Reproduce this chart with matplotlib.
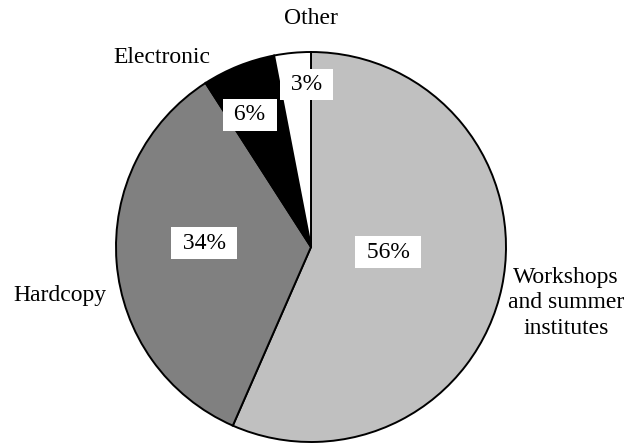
import matplotlib
matplotlib.use("Agg")
import matplotlib.pyplot as plt
import numpy as np

categories = ["Workshops\nand summer\ninstitutes", "Hardcopy", "Electronic", "Other"]
shares = [56, 34, 6, 3]
colors = ["#c0c0c0", "#808080", "#000000", "#ffffff"]

plt.rcParams["font.family"] = ["Liberation Serif", "DejaVu Serif"]

W, H = 636, 443
fig = plt.figure(figsize=(W / 100, H / 100), dpi=100)
ax = fig.add_axes([0, 0, 1, 1])

cx, cy, R = 311, 196, 195
wedges, _ = ax.pie(shares, colors=colors, startangle=90, counterclock=False,
                   center=(cx, cy), radius=R,
                   wedgeprops=dict(edgecolor="black", linewidth=1.4))
ax.set_xlim(0, W)
ax.set_ylim(0, H)
ax.set_aspect("equal")
ax.axis("off")

# radial placement of the percentage boxes (fraction of radius) and angle nudge
pct_r = [0.396, 0.549, 0.746, 0.834]
pct_nudge = [8.1, -6.6, 3.0, -3.9]
for w, v, fr, dn in zip(wedges, shares, pct_r, pct_nudge):
    mid = np.deg2rad((w.theta1 + w.theta2) / 2 + dn)
    x = cx + fr * R * np.cos(mid)
    y = cy + fr * R * np.sin(mid)
    ax.text(x, y, f" {v}% ", ha="center", va="center",
            fontsize=17, color="black",
            bbox=dict(boxstyle="square,pad=0.22", facecolor="white", edgecolor="none"))

# category labels outside the pie
label_pos = [(566, 140), (60, 147), (162, 386), (311, 425)]
for name, (x, y) in zip(categories, label_pos):
    ax.text(x, y, name, ha="center", va="center", fontsize=17,
            linespacing=1.3, color="black")

fig.savefig("out.png", dpi=100)
